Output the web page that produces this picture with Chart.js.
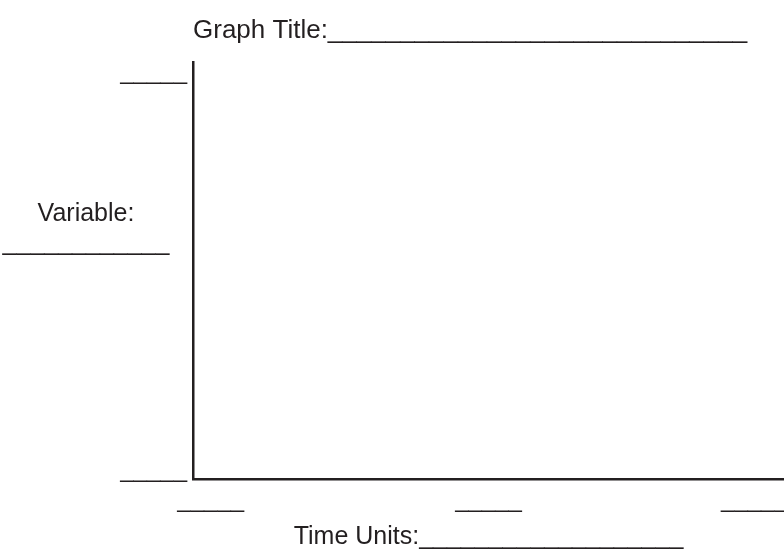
<!DOCTYPE html>
<html>
<head>
<meta charset="utf-8">
<title>Graph template</title>
<script src="https://cdn.jsdelivr.net/npm/chart.js@4"></script>
<style>
  body { margin: 0; background: #fff; }
</style>
</head>
<body>
<canvas id="grafik" width="784" height="550"></canvas>
<script>
// blank template: tick places and the blank "write here" lines
const xTickValues = [3, 50, 95];
const xTickLabels = ['_____', '_____', '_____'];
const yTickValues = [0, 95.3];
const yTickLabels = ['_____', '_____'];
const seriesValues = [];

const judulGrafik = 'Graph Title:' + '_'.repeat(29);
const judulX = 'Time Units:' + '_'.repeat(19);
const judulY = ['Variable:', '_'.repeat(12)];

const warna = '#231f20';
Chart.defaults.font.family = '"Liberation Sans", Arial, sans-serif';
Chart.defaults.color = warna;

// label sumbu Y yang tidak diputar
const labelY = {
    id: 'labelY',
    afterDraw(chart) {
        const ctx = chart.ctx;
        ctx.save();
        ctx.font = '25px "Liberation Sans", Arial, sans-serif';
        ctx.fillStyle = warna;
        ctx.textAlign = 'center';
        ctx.textBaseline = 'alphabetic';
        ctx.fillText(judulY[0], 86, 221);
        ctx.fillText(judulY[1], 86, 250);
        ctx.restore();
    }
};

new Chart(document.getElementById('grafik'), {
    type: 'line',
    data: {
        datasets: [{ data: seriesValues, borderColor: warna }]
    },
    options: {
        responsive: false,
        animation: false,
        layout: { padding: { left: 0, right: 0, top: 0, bottom: 0 } },
        plugins: {
            legend: { display: false },
            tooltip: { enabled: false },
            title: {
                display: true,
                text: judulGrafik,
                align: 'start',
                fullSize: false,
                color: warna,
                font: { size: 26, weight: 'normal', lineHeight: 1.2 },
                padding: { top: 15, bottom: 16 }
            }
        },
        scales: {
            x: {
                type: 'linear',
                min: 0,
                max: 100,
                grid: { display: false, drawTicks: false },
                border: { display: true, color: warna, width: 2.5 },
                afterBuildTicks: (scale) => {
                    scale.ticks = xTickValues.map(v => ({ value: v }));
                },
                afterFit: (scale) => {
                    scale.paddingLeft = 0;
                    scale.paddingRight = 0;
                },
                ticks: {
                    autoSkip: false,
                    maxRotation: 0,
                    padding: 7,
                    color: warna,
                    font: { size: 24 },
                    callback: (v, i) => xTickLabels[i]
                },
                title: {
                    display: true,
                    text: judulX,
                    color: warna,
                    font: { size: 25, lineHeight: 26 / 25 },
                    padding: { top: 2, bottom: 0 }
                }
            },
            y: {
                type: 'linear',
                min: 0,
                max: 100,
                grid: { display: false, drawTicks: false },
                border: { display: true, color: warna, width: 2.5 },
                afterBuildTicks: (scale) => {
                    scale.ticks = yTickValues.map(v => ({ value: v }));
                },
                afterFit: (scale) => {
                    scale.width = 193;
                    scale.paddingTop = 0;
                    scale.paddingBottom = 0;
                },
                ticks: {
                    autoSkip: false,
                    padding: 6,
                    labelOffset: -9,
                    color: warna,
                    font: { size: 24 },
                    callback: (v, i) => yTickLabels[i]
                }
            }
        }
    },
    plugins: [labelY]
});
</script>
</body>
</html>
